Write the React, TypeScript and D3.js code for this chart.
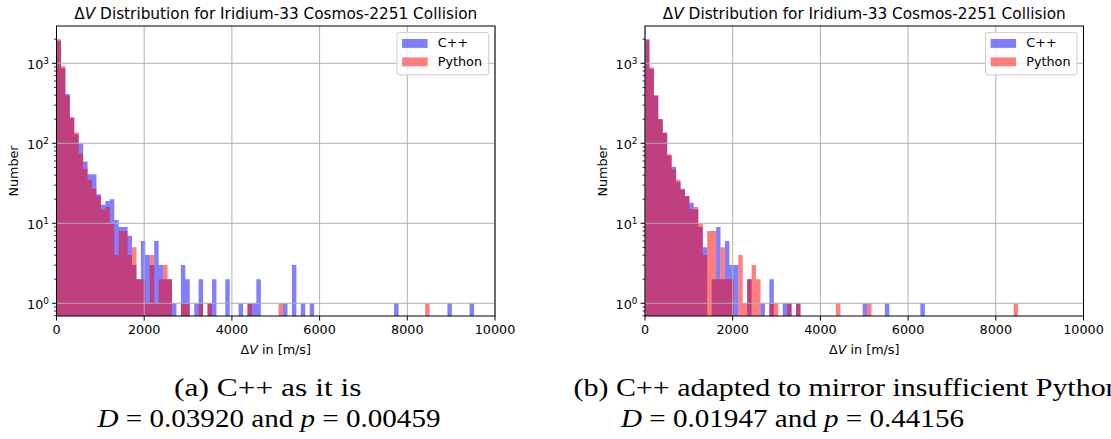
import React from 'react';
import * as d3 from 'd3';

// ---- data ----
const BIN_WIDTH = 101.3; // m/s, common histogram bin width
const X_TICKS = [0, 2000, 4000, 6000, 8000, 10000];
const Y_MAJOR = [1, 10, 100, 1000];
const SERIES_NAMES = ['C++', 'Python'];
const TITLE_REST = ' Distribution for Iridium-33 Cosmos-2251 Collision';

// [bin index, count]
const cppA: [number, number][] = [
  [0, 1910], [1, 866], [2, 414], [3, 211], [4, 130], [5, 100], [6, 59], [7, 41], [8, 41], [9, 23],
  [10, 17], [11, 19], [12, 20], [13, 11], [14, 9], [15, 9], [16, 7], [17, 3], [18, 2], [19, 6],
  [20, 4], [21, 3], [22, 6], [23, 3], [24, 2], [25, 2], [26, 1], [28, 3], [29, 2], [31, 1],
  [32, 2], [34, 1], [35, 2], [38, 2], [41, 1], [43, 1], [44, 1], [45, 2], [51, 1], [53, 3],
  [55, 1], [57, 1], [76, 1], [88, 1], [93, 1],
];
const pyA: [number, number][] = [
  [0, 2000], [1, 925], [2, 394], [3, 205], [4, 136], [5, 74], [6, 48], [7, 35], [8, 27], [9, 22],
  [10, 15], [11, 16], [12, 10], [13, 4], [14, 8], [15, 8], [16, 4], [17, 5], [18, 2], [19, 2],
  [20, 1], [21, 4], [22, 1], [23, 2], [24, 3], [25, 2], [28, 1], [29, 1], [32, 1], [34, 1],
  [43, 1], [50, 1], [83, 1],
];
const cppB: [number, number][] = [
  [0, 2000], [1, 850], [2, 398], [3, 200], [4, 136], [5, 70], [6, 51], [7, 33], [8, 27], [9, 22],
  [10, 18], [11, 15], [12, 9], [13, 5], [15, 2], [16, 9], [17, 2], [18, 6], [19, 3], [20, 3],
  [23, 2], [26, 1], [28, 2], [31, 1], [32, 1], [34, 1], [49, 1], [54, 1], [62, 1],
];
const pyB: [number, number][] = [
  [0, 1930], [1, 890], [2, 390], [3, 200], [4, 134], [5, 73], [6, 47], [7, 35], [8, 26], [9, 22],
  [10, 15], [11, 16], [12, 10], [13, 4], [14, 8], [15, 8], [16, 2], [17, 5], [18, 2], [19, 2],
  [21, 4], [22, 1], [23, 2], [24, 3], [25, 2], [28, 1], [29, 1], [32, 1], [34, 1], [43, 1],
  [50, 1], [83, 1],
];

const CAPTIONS = [
  { l1: '(a) C++ as it is', D: '0.03920', p: '0.00459' },
  { l1: '(b) C++ adapted to mirror insufficient Python', D: '0.01947', p: '0.44156' },
];

// ---- layout ----
const W = 1111, H = 439;
const TOP = 26, BOTTOM = 316;
const PANELS = [
  { left: 56.5, right: 495 },
  { left: 645, right: 1083.5 },
];
const PT = 1.275;
const FS = 10 * PT;
const SANS = 'DejaVu Sans, sans-serif';
const SERIF = 'Liberation Serif, Times New Roman, serif';
const BLUE = '#0000ff';
const RED = '#ff0000';
const GRID = '#b0b0b0';

const yScale = d3.scaleLog().domain([Math.pow(10, -0.159), Math.pow(10, 3.466)]).range([BOTTOM, TOP]);
const yMinor: number[] = [];
for (let e = -1; e <= 3; e++) for (let m = 2; m <= 9; m++) {
  const v = m * Math.pow(10, e);
  const [d0, d1] = yScale.domain();
  if (v >= d0 && v <= d1) yMinor.push(v);
}

function stepPath(data: [number, number][], x: d3.ScaleLinear<number, number>) {
  const sorted = data.filter(d => d[1] > 0).sort((a, b) => a[0] - b[0]);
  const p = d3.path();
  let prev = -10;
  sorted.forEach(([k, c], i) => {
    const x0 = x(k * BIN_WIDTH), x1 = x((k + 1) * BIN_WIDTH), y = yScale(c);
    if (k !== prev + 1) {
      if (i > 0) { p.lineTo(x(( prev + 1) * BIN_WIDTH), BOTTOM); p.closePath(); }
      p.moveTo(x0, BOTTOM);
    }
    p.lineTo(x0, y);
    p.lineTo(x1, y);
    prev = k;
  });
  if (sorted.length) { p.lineTo(x((prev + 1) * BIN_WIDTH), BOTTOM); p.closePath(); }
  return p.toString();
}

function Panel({ idx, cpp, py }: { idx: number; cpp: [number, number][]; py: [number, number][] }) {
  const { left, right } = PANELS[idx];
  const x = d3.scaleLinear().domain([0, 10000]).range([left, right]);
  const cx = (left + right) / 2;
  const legR = right - 6.4, legW = 91.6, legL = legR - legW, legT = TOP + 6.4;
  const cap = CAPTIONS[idx];
  return (
    <g>
      {/* title */}
      <text x={cx} y={18.5} textAnchor="middle" fontFamily={SANS} fontSize={12 * PT}>
        Δ<tspan fontStyle="italic">V</tspan>{TITLE_REST}
      </text>
      <path d={stepPath(cpp, x)} fill={BLUE} fillOpacity={0.5} />
      <path d={stepPath(py, x)} fill={RED} fillOpacity={0.5} />
      {/* grid */}
      {X_TICKS.map(t => (
        <line key={'gx' + t} x1={x(t)} x2={x(t)} y1={TOP} y2={BOTTOM} stroke={GRID} strokeWidth={1} />
      ))}
      {Y_MAJOR.map(t => (
        <line key={'gy' + t} x1={left} x2={right} y1={yScale(t)} y2={yScale(t)} stroke={GRID} strokeWidth={1} />
      ))}
      {/* spines */}
      <rect x={left} y={TOP} width={right - left} height={BOTTOM - TOP} fill="none" stroke="#000" strokeWidth={1} />
      {/* x ticks */}
      {X_TICKS.map(t => (
        <g key={'xt' + t}>
          <line x1={x(t)} x2={x(t)} y1={BOTTOM} y2={BOTTOM + 4.5} stroke="#000" strokeWidth={1} />
          <text x={x(t)} y={BOTTOM + 18} textAnchor="middle" fontFamily={SANS} fontSize={FS}>{t}</text>
        </g>
      ))}
      {/* y ticks */}
      {Y_MAJOR.map((t, i) => (
        <g key={'yt' + t}>
          <line x1={left - 4.5} x2={left} y1={yScale(t)} y2={yScale(t)} stroke="#000" strokeWidth={1} />
          <text x={left - 7.5} y={yScale(t) + 6} textAnchor="end" fontFamily={SANS} fontSize={FS}>
            10<tspan fontSize={FS * 0.7} dy={-5}>{i}</tspan>
          </text>
        </g>
      ))}
      {yMinor.map(t => (
        <line key={'ym' + t} x1={left - 2.5} x2={left} y1={yScale(t)} y2={yScale(t)} stroke="#000" strokeWidth={0.8} />
      ))}
      {/* axis labels */}
      <text x={cx} y={354} textAnchor="middle" fontFamily={SANS} fontSize={FS}>
        Δ<tspan fontStyle="italic">V</tspan> in [m/s]
      </text>
      <text transform={`translate(${left - 38.5},${(TOP + BOTTOM) / 2}) rotate(-90)`} textAnchor="middle" fontFamily={SANS} fontSize={FS}>Number</text>
      {/* legend */}
      <rect x={legL} y={legT} width={legW} height={42.5} rx={2.5} fill="#fff" fillOpacity={0.8} stroke="#cccccc" strokeWidth={1} />
      {SERIES_NAMES.map((name, i) => (
        <g key={name}>
          <rect x={legL + 5.1} y={legT + 6.6 + i * 18.4} width={25.5} height={8.9} fill={i === 0 ? BLUE : RED} fillOpacity={0.5} />
          <text x={legL + 40.8} y={legT + 15 + i * 18.4} fontFamily={SANS} fontSize={FS}>{name}</text>
        </g>
      ))}
      {/* caption */}
      {idx === 0 ? (
        <text x={174} y={395.5} fontFamily={SERIF} fontSize={26} textLength={187.5} lengthAdjust="spacingAndGlyphs">{cap.l1}</text>
      ) : (
        <text x={573.6} y={395.5} fontFamily={SERIF} fontSize={26} textLength={547} lengthAdjust="spacingAndGlyphs">{cap.l1}</text>
      )}
      <text x={idx === 0 ? 269 : 792.5} y={427} textAnchor="middle" fontFamily={SERIF} fontSize={26} textLength={343} lengthAdjust="spacingAndGlyphs">
        <tspan fontStyle="italic">D</tspan> = {cap.D} and <tspan fontStyle="italic">p</tspan> = {cap.p}
      </text>
    </g>
  );
}

export default function App() {
  return (
    <div>
      <style>{'body{margin:0;overflow:hidden}'}</style>
      <svg width={W} height={H} style={{ display: 'block' }}>
        <rect width={W} height={H} fill="#fff" />
        <Panel idx={0} cpp={cppA} py={pyA} />
        <Panel idx={1} cpp={cppB} py={pyB} />
      </svg>
    </div>
  );
}
